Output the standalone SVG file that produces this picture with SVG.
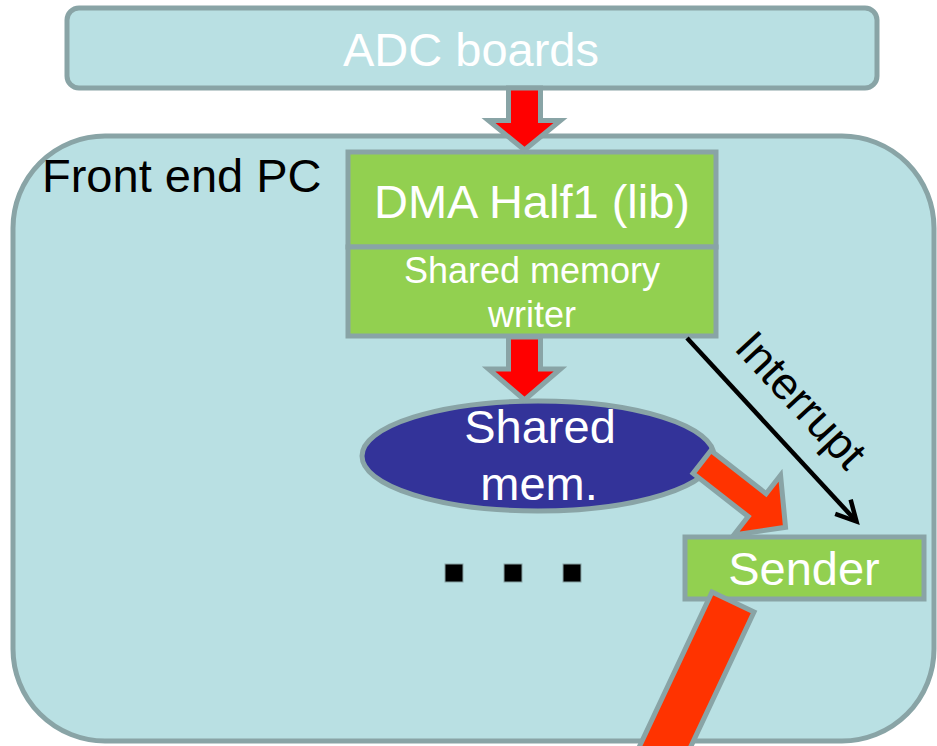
<svg xmlns="http://www.w3.org/2000/svg" width="937" height="746" viewBox="0 0 937 746">
<defs>
<style>
.box{fill:#b9e0e3;stroke:#89a4a6;stroke-width:5}
.green{fill:#92d050;stroke:#89a4a6;stroke-width:5}
.wt{fill:#ffffff;font-family:"Liberation Sans",Arial,sans-serif;text-anchor:middle}
.bt{fill:#000000;font-family:"Liberation Sans",Arial,sans-serif}
.red{fill:#ff0000;stroke:#89a4a6;stroke-width:5;stroke-linejoin:miter}
.orange{fill:#ff3300;stroke:#89a4a6;stroke-width:5;stroke-linejoin:miter}
.dot{fill:#000000;stroke:#89a4a6;stroke-width:1}
</style>
<marker id="vhead" markerUnits="userSpaceOnUse" markerWidth="40" markerHeight="40" viewBox="-30 -20 40 40" refX="0" refY="0" orient="auto">
<path d="M-20,-10.5 L0,0 L-20,10.5" fill="none" stroke="#000" stroke-width="4.5" stroke-linejoin="miter"/>
</marker>
</defs>
<rect width="937" height="746" fill="#ffffff"/>

<g id="frontend-pc">
<rect class="box" x="13" y="136" width="921" height="605" rx="92" ry="92"/>
<text class="bt" x="42" y="192" font-size="47">Front end PC</text>
</g>

<g id="adc-boards">
<rect class="box" x="67" y="8" width="810" height="80" rx="12" ry="12"/>
<text class="wt" x="471" y="66" font-size="47">ADC boards</text>
</g>

<g id="dma-half1">
<rect class="green" x="348" y="152" width="368" height="95"/>
<text class="wt" x="532" y="218" font-size="47">DMA Half1 (lib)</text>
</g>

<g id="shm-writer">
<rect class="green" x="348" y="247" width="368" height="89"/>
<text class="wt" x="532" y="283" font-size="36">Shared memory</text>
<text class="wt" x="532" y="327" font-size="36">writer</text>
</g>

<g id="shared-mem">
<ellipse cx="538" cy="456" rx="176" ry="55" fill="#333399" stroke="#89a4a6" stroke-width="5"/>
<text class="wt" x="540" y="443" font-size="47">Shared</text>
<text class="wt" x="539" y="500" font-size="47">mem.</text>
</g>

<g id="sender">
<rect class="green" x="685" y="537" width="239" height="62"/>
<text class="wt" x="804" y="585" font-size="47">Sender</text>
</g>

<g id="dots">
<rect class="dot" x="445" y="564" width="18" height="18"/>
<rect class="dot" x="504" y="564" width="18" height="18"/>
<rect class="dot" x="563" y="564" width="18" height="18"/>
</g>

<g id="connectors">
<path class="red" d="M508.5,88 V120.5 H488.5 L524.5,150 L560.5,120.5 H540.5 V88 Z"/>
<path class="red" d="M508.5,337 V369 H488.5 L524.5,400 L560.5,369 H540.5 V337 Z"/>
<path class="orange" transform="translate(702,462) rotate(38)" d="M0,-14.5 H70 V-38 L106,0 L70,38 V14.5 H0 Z"/>
<path class="orange" d="M712,592 L754,612 L669,793 L627,773 Z"/>
<line x1="687" y1="338" x2="856.5" y2="521.5" stroke="#000" stroke-width="4.5" marker-end="url(#vhead)"/>
<text class="bt" font-size="45" transform="translate(733,349) rotate(47.2)">Interrupt</text>
</g>
</svg>
